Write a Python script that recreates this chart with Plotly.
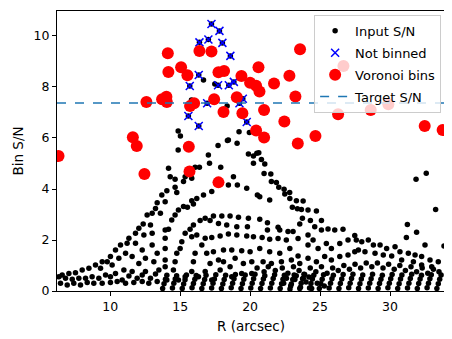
import plotly.graph_objects as go

# axis limits and target
x_range = [6.2, 33.93]
y_range = [0, 10.98]
target_sn = 7.37

# Voronoi bins (R, S/N)
bins_pts = [
    (14.12, 9.32), (14.16, 8.59), (15.07, 8.77), (15.52, 8.46), (16.38, 9.41),
    (17.24, 9.39), (17.74, 8.58), (18.14, 8.63), (19.38, 8.43), (20.0, 8.17),
    (12.59, 7.41), (13.71, 7.52), (14.02, 7.62), (14.05, 7.41), (15.71, 7.25),
    (16.0, 7.36), (17.43, 7.52), (18.1, 7.02), (19.05, 7.6), (19.45, 6.97),
    (11.62, 6.03), (11.9, 5.69), (15.62, 5.66), (6.31, 5.29), (12.45, 4.59),
    (15.67, 4.69), (17.74, 4.26), (23.57, 9.48), (26.67, 8.82), (20.6, 8.77),
    (22.81, 8.44), (20.43, 8.05), (21.71, 8.14), (20.67, 7.82), (23.24, 7.63),
    (29.88, 7.32), (21.0, 7.1), (28.62, 7.1), (26.29, 6.93), (22.45, 6.65),
    (20.43, 6.29), (32.48, 6.47), (33.76, 6.31), (21.0, 6.02), (24.67, 6.08),
    (23.41, 5.78),
]

# pixels left unbinned
not_binned_pts = [
    (17.24, 10.47), (17.81, 10.2), (16.38, 9.75), (17.02, 9.86), (18.02, 9.73),
    (18.59, 9.22), (16.33, 8.47), (15.69, 8.04), (17.71, 8.07), (18.48, 8.07),
    (18.84, 8.2), (19.48, 7.54), (16.93, 7.36), (19.24, 7.36), (15.59, 6.86),
    (16.33, 6.47), (19.76, 6.63),
]

# input pixels: upper scatter
input_upper = [
    (16.67, 8.27), (17.48, 8.12), (15.81, 7.49), (18.36, 7.25), (14.86, 6.27),
    (15.02, 6.08), (19.21, 6.24), (18.38, 5.9), (17.71, 5.71), (19.07, 5.79),
    (19.95, 6.22), (14.86, 5.53), (18.45, 5.92), (17.02, 5.33), (17.1, 5.01),
    (19.88, 5.37), (20.24, 5.29), (20.48, 5.4), (20.24, 5.01),
]

# input pixels: arcs in the middle
input_arcs = [
    (14.17, 4.81), (14.29, 4.48), (14.64, 4.38), (15.24, 4.29), (15.36, 4.48),
    (15.83, 4.42), (16.07, 4.85), (16.38, 4.85), (17.9, 4.85), (18.81, 4.48),
    (18.45, 4.16), (19.09, 4.16), (19.76, 4.03), (20.52, 3.76), (14.64, 4.07),
    (14.05, 3.93), (13.69, 3.76), (13.93, 3.5), (14.76, 3.86), (16.67, 3.76),
    (16.19, 3.63), (15.83, 3.54), (17.26, 3.9), (15.24, 3.31), (14.88, 3.18),
    (14.64, 2.98), (14.4, 2.78), (14.17, 2.42), (13.93, 2.07), (13.93, 1.67),
    (13.93, 0.95), (15.52, 3.28), (15.95, 3.41), (16.79, 2.85), (17.38, 2.94),
    (17.98, 2.94), (18.57, 2.94), (19.17, 2.89), (19.88, 2.85), (16.43, 2.76),
    (15.95, 2.59), (15.71, 2.42), (15.36, 2.26), (15.12, 1.93), (15.0, 1.67),
    (14.76, 1.48), (14.64, 1.15), (14.52, 0.82), (17.14, 2.76), (17.74, 2.65),
    (18.33, 2.59), (19.05, 2.52), (19.81, 2.52), (15.83, 2.13), (16.19, 2.2),
    (16.79, 2.07), (17.26, 2.1), (17.86, 2.16), (18.45, 2.24), (19.05, 2.2),
    (19.76, 2.16), (20.24, 2.13), (16.55, 1.8), (16.07, 1.48), (15.95, 1.15),
    (15.83, 0.76), (16.9, 1.48), (17.38, 1.54), (18.1, 1.61), (18.69, 1.61),
    (19.4, 1.58), (20.0, 1.54), (17.14, 1.08), (16.79, 0.76), (17.74, 1.22),
    (18.1, 1.15), (18.57, 0.95), (18.93, 1.28), (19.52, 1.08), (20.12, 1.15),
    (17.86, 0.82), (18.69, 0.56), (19.4, 0.69), (20.12, 0.69), (15.36, 0.56),
    (16.31, 0.56), (17.26, 0.43), (14.88, 0.43), (14.05, 0.43), (13.93, 1.22),
    (13.93, 2.39),
    (20.62, 5.42), (20.81, 5.16), (21.05, 4.98), (21.0, 4.61), (21.48, 4.59),
    (21.52, 4.29), (21.88, 4.25), (22.05, 4.07), (22.43, 3.99), (22.48, 3.8),
    (22.83, 3.86), (22.84, 3.63), (23.31, 3.54), (23.79, 3.53), (23.02, 3.28),
    (23.38, 3.23), (23.67, 3.2), (24.14, 3.18), (24.74, 3.14), (23.74, 2.85),
    (24.31, 2.76), (25.1, 2.76), (23.55, 2.63), (24.62, 2.52), (25.1, 2.39),
    (25.57, 2.43), (26.05, 2.39), (26.64, 2.42), (27.48, 2.18),
    (20.69, 3.7), (21.4, 3.57), (20.69, 2.81), (21.24, 2.68), (21.24, 2.39),
    (22.0, 2.5), (22.12, 2.39), (22.71, 2.33), (23.07, 2.33), (20.86, 2.1),
    (21.4, 2.03), (22.0, 2.06), (22.59, 2.0), (23.43, 2.06), (24.14, 2.2),
    (24.5, 2.0), (20.69, 1.67), (21.4, 1.54), (22.12, 1.48), (22.84, 1.67),
    (23.43, 1.37), (24.14, 1.8), (24.86, 1.67), (25.45, 1.86), (25.81, 1.67),
    (26.41, 1.86), (27.0, 2.0), (27.59, 2.0),
    (20.93, 1.15), (21.52, 1.08), (22.24, 1.15), (22.95, 1.22), (23.55, 1.08),
    (24.14, 1.28), (24.74, 1.15), (25.33, 1.35), (25.81, 1.22), (26.41, 1.35),
    (27.0, 1.41), (27.48, 1.54),
]

# input pixels: left rising arcs
input_left = [
    (13.36, 3.46), (13.24, 3.24), (13.0, 3.05), (12.64, 2.98), (13.59, 3.05),
    (12.36, 2.63), (12.88, 2.59), (12.05, 2.46), (11.81, 2.26), (13.0, 2.26),
    (12.41, 2.2), (11.34, 2.07), (11.21, 1.87), (10.74, 1.8), (11.81, 1.87),
    (13.0, 1.8), (12.29, 1.61), (10.38, 1.61), (11.1, 1.48), (13.36, 1.48),
    (10.02, 1.35), (10.62, 1.28), (11.57, 1.35), (12.52, 1.28), (9.43, 1.15),
    (9.79, 1.15), (8.95, 1.02), (10.14, 1.02), (12.05, 1.08), (13.12, 1.15),
    (8.48, 0.89), (9.31, 0.89), (10.98, 0.82), (8.0, 0.82), (7.52, 0.72),
    (7.05, 0.69), (6.57, 0.63), (6.34, 0.56), (6.81, 0.5), (7.29, 0.46),
    (7.76, 0.5), (8.24, 0.5), (8.71, 0.56), (9.19, 0.5), (9.67, 0.63),
    (10.02, 0.56), (10.38, 0.69), (10.86, 0.43), (11.34, 0.59), (11.57, 0.76),
    (11.93, 0.5), (12.29, 0.63), (12.52, 0.76), (12.88, 0.5), (13.24, 0.67),
    (13.48, 0.82), (6.45, 0.3), (6.93, 0.24), (7.4, 0.3), (7.88, 0.24),
    (8.36, 0.33), (8.83, 0.3), (9.43, 0.3), (10.02, 0.33), (10.5, 0.37),
    (11.1, 0.3), (11.69, 0.33), (12.29, 0.37), (12.76, 0.3), (13.36, 0.37),
]

# input pixels: right side
input_right = [
    (31.86, 4.38), (32.59, 4.62), (33.26, 3.2), (31.24, 2.61), (31.9, 2.3),
    (31.17, 2.1), (32.5, 1.8), (33.86, 1.76),
    (27.98, 1.93), (28.45, 2.0), (28.81, 1.8), (29.29, 1.8), (29.76, 1.67),
    (30.36, 1.74), (30.71, 1.54), (31.31, 1.48), (31.79, 1.41), (32.26, 1.35),
    (32.86, 1.22), (33.45, 1.15), (27.74, 1.61), (28.21, 1.54), (28.93, 1.48),
    (29.52, 1.41), (30.12, 1.37), (30.83, 1.22), (31.67, 1.15), (32.26, 1.02),
    (32.98, 0.95),
]

# input pixels: bottom band of streaks
input_band = [
    (20.5, 0.9), (21.0, 0.75), (21.3, 0.95), (21.8, 0.8), (22.3, 0.9),
    (22.7, 0.7), (23.1, 0.95), (23.5, 0.8), (23.9, 0.65), (24.3, 0.9),
    (24.7, 0.75), (25.1, 0.95), (25.5, 0.7), (25.9, 0.9), (26.3, 0.8),
    (26.7, 1.0), (27.1, 0.85), (27.5, 1.05), (27.9, 0.9), (28.3, 1.1),
    (28.7, 0.95), (29.1, 1.1), (29.5, 0.9), (29.9, 1.05), (30.3, 0.85),
    (30.7, 1.0), (31.1, 0.8), (31.5, 0.95), (31.9, 0.75), (32.3, 0.9),
    (32.7, 0.7), (33.1, 0.85), (33.5, 0.75),
    (13.75, 0.1), (13.85, 0.28), (13.95, 0.46), (14.05, 0.62),
    (14.45, 0.12), (14.55, 0.3), (14.65, 0.47), (14.75, 0.6),
    (15.15, 0.1), (15.25, 0.27), (15.35, 0.44), (15.45, 0.63),
    (15.85, 0.13), (15.95, 0.29), (16.05, 0.46), (16.15, 0.61),
    (16.55, 0.1), (16.65, 0.28), (16.75, 0.45), (16.85, 0.62),
    (17.25, 0.12), (17.35, 0.3), (17.45, 0.47), (17.55, 0.64),
    (17.95, 0.1), (18.05, 0.27), (18.15, 0.45), (18.25, 0.62),
    (18.65, 0.13), (18.75, 0.3), (18.85, 0.48), (18.95, 0.65),
    (19.35, 0.1), (19.45, 0.28), (19.55, 0.46), (19.65, 0.63),
    (20.05, 0.12), (20.15, 0.3), (20.25, 0.48), (20.35, 0.66),
    (20.75, 0.1), (20.85, 0.29), (20.95, 0.47), (21.05, 0.6),
    (21.45, 0.12), (21.55, 0.3), (21.65, 0.49), (21.75, 0.64),
    (22.15, 0.1), (22.25, 0.28), (22.35, 0.46), (22.45, 0.62),
    (22.85, 0.08), (22.95, 0.27), (23.05, 0.45), (23.15, 0.63),
    (23.55, 0.1), (23.65, 0.3), (23.75, 0.48), (23.85, 0.66),
    (24.25, 0.12), (24.35, 0.29), (24.45, 0.47), (24.55, 0.62),
    (24.95, 0.1), (25.05, 0.28), (25.15, 0.46), (25.25, 0.64),
    (25.65, 0.12), (25.75, 0.3), (25.85, 0.48), (25.95, 0.62),
    (26.35, 0.1), (26.45, 0.29), (26.55, 0.47), (26.65, 0.65),
    (27.05, 0.13), (27.15, 0.3), (27.25, 0.49), (27.35, 0.66),
    (27.75, 0.1), (27.85, 0.28), (27.95, 0.47), (28.05, 0.63),
    (28.45, 0.12), (28.55, 0.3), (28.65, 0.48), (28.75, 0.66),
    (29.15, 0.1), (29.25, 0.29), (29.35, 0.46), (29.45, 0.62),
    (29.85, 0.13), (29.95, 0.3), (30.05, 0.48), (30.15, 0.65),
    (30.55, 0.1), (30.65, 0.28), (30.75, 0.47), (30.85, 0.63),
    (31.25, 0.12), (31.35, 0.3), (31.45, 0.49), (31.55, 0.66),
    (31.95, 0.1), (32.05, 0.29), (32.15, 0.47), (32.25, 0.62),
    (32.65, 0.13), (32.75, 0.3), (32.85, 0.48), (32.95, 0.64),
    (33.35, 0.1), (33.45, 0.28), (33.55, 0.46), (33.65, 0.63),
    (22.4, 0.3), (22.9, 0.2), (23.2, 0.45), (23.6, 0.15), (24.0, 0.35),
    (24.4, 0.1), (24.8, 0.3), (25.3, 0.2), (23.3, 0.6), (23.8, 0.5),
    (24.2, 0.55), (22.6, 0.5),
]

input_pts = input_upper + input_arcs + input_left + input_right + input_band + not_binned_pts

fig = go.Figure()
fig.add_trace(go.Scatter(
    x=[p[0] for p in input_pts], y=[p[1] for p in input_pts],
    mode='markers', name='Input S/N', legendgroup='a',
    marker=dict(color='black', size=5.5)))
fig.add_trace(go.Scatter(
    x=[p[0] for p in not_binned_pts], y=[p[1] for p in not_binned_pts],
    mode='markers', name='Not binned', legendgroup='b',
    marker=dict(symbol='x-thin', size=8, line=dict(color='blue', width=1.5))))
fig.add_trace(go.Scatter(
    x=[p[0] for p in bins_pts], y=[p[1] for p in bins_pts],
    mode='markers', name='Voronoi bins', legendgroup='c',
    marker=dict(color='red', size=12)))
fig.add_trace(go.Scatter(
    x=x_range, y=[target_sn, target_sn],
    mode='lines', name='Target S/N', legendgroup='d',
    line=dict(color='#1f77b4', width=1.6, dash='dash')))

axis_style = dict(showgrid=False, zeroline=False, showline=True, mirror=True,
                  linecolor='black', linewidth=1, ticks='outside', ticklen=4,
                  tickcolor='black', tickfont=dict(size=12.5, color='black'),
                  automargin=False)

# the page body has an 8px margin, so the figure is shrunk to fit the window
fig.update_layout(
    width=444, height=331,
    margin=dict(l=49, r=7, t=3, b=48),
    paper_bgcolor='white', plot_bgcolor='white',
    font=dict(family='DejaVu Sans', size=12.5, color='black'),
    xaxis=dict(range=x_range, tickvals=[10, 15, 20, 25, 30],
               title=dict(text='R (arcsec)', standoff=8, font=dict(size=13.5)), **axis_style),
    yaxis=dict(range=y_range, tickvals=[0, 2, 4, 6, 8, 10],
               title=dict(text='Bin S/N', standoff=6, font=dict(size=13.5)), **axis_style),
    legend=dict(x=0.99, y=0.986, xanchor='right', yanchor='top',
                bgcolor='rgba(255,255,255,0.8)', bordercolor='#cccccc',
                borderwidth=1, font=dict(size=13), tracegroupgap=2,
                itemwidth=30),
    showlegend=True,
)

fig.write_html("out.html")
